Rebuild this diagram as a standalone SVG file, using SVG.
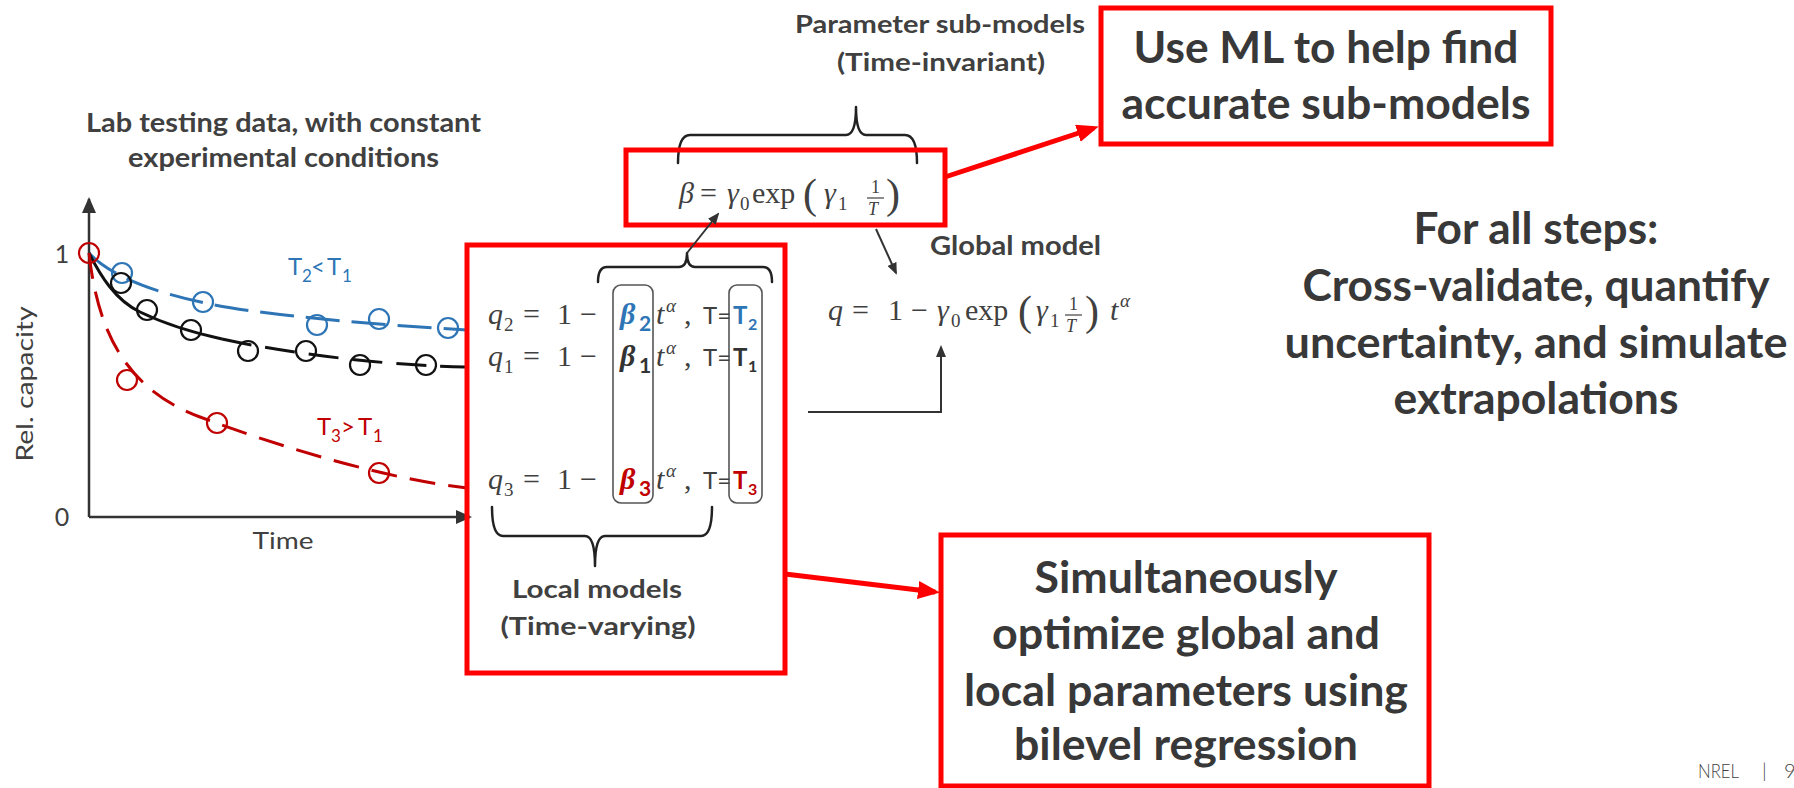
<svg xmlns="http://www.w3.org/2000/svg" width="1794" height="788" viewBox="0 0 1794 788">
<style>
.lbl{font-family:Lato,"Liberation Sans",sans-serif;font-weight:700;fill:#404040}
.big{font-family:Lato,"Liberation Sans",sans-serif;font-weight:700;fill:#383838;font-size:43px;text-anchor:middle}
.reg{font-family:Lato,"Liberation Sans",sans-serif;font-weight:400;fill:#404040}
.m{font-family:"Liberation Serif","DejaVu Serif",serif;font-size:30px;fill:#404040}
.mi{font-style:italic}
.sb{font-size:19px}
.redbox{fill:none;stroke:#FF0000;stroke-width:5}
.brace{fill:none;stroke:#222;stroke-width:2.5;stroke-linecap:round;stroke-linejoin:round}
.col{fill:none;stroke:#555;stroke-width:1.6}
.ax{stroke:#333;stroke-width:2.5;fill:none}
.dot{fill:none;stroke-width:2.2}
.cb{stroke:#2E75B6}
.ck{stroke:#111}
.cr{stroke:#C00000}
.red{stroke:#FF0000;stroke-width:5;fill:none}
.gray{stroke:#333;stroke-width:2;fill:none}
</style>
<defs>
<marker id="ra" markerUnits="userSpaceOnUse" markerWidth="22" markerHeight="18" refX="17" refY="9" orient="auto"><path d="M0,0 L22,9 L0,18 z" fill="#FF0000"/></marker>
<marker id="ga" markerUnits="userSpaceOnUse" markerWidth="12" markerHeight="10" refX="10" refY="5" orient="auto"><path d="M0,0 L12,5 L0,10 z" fill="#333"/></marker>
<marker id="axa" markerUnits="userSpaceOnUse" markerWidth="16" markerHeight="14" refX="14" refY="7" orient="auto"><path d="M0,0 L16,7 L0,14 z" fill="#333"/></marker>
</defs>

<g id="plot">
<text class="lbl" x="283.5" y="132" font-size="26" text-anchor="middle" textLength="395" lengthAdjust="spacingAndGlyphs">Lab testing data, with constant</text>
<text class="lbl" x="283.5" y="167" font-size="26" text-anchor="middle" textLength="311" lengthAdjust="spacingAndGlyphs">experimental conditions</text>
<line class="ax" x1="89" y1="517" x2="89" y2="199" marker-end="url(#axa)"/>
<line class="ax" x1="89" y1="517" x2="470" y2="517" marker-end="url(#axa)"/>
<text class="reg" x="62" y="263" font-size="25" text-anchor="middle">1</text>
<text class="reg" x="62" y="526" font-size="25" text-anchor="middle">0</text>
<text class="reg" x="283" y="549" font-size="24" text-anchor="middle" textLength="61" lengthAdjust="spacingAndGlyphs">Time</text>
<text class="reg" transform="translate(33,384) rotate(-90)" x="0" y="0" font-size="24" text-anchor="middle" textLength="155" lengthAdjust="spacingAndGlyphs">Rel. capacity</text>
<path d="M89,253 C108,274 150,292 210,304 S380,325 467,330" fill="none" stroke="#2E75B6" stroke-width="3" stroke-dasharray="34 12"/>
<path d="M89,253 C100,275 115,300 140,312 C165,324 190,332 222,339" fill="none" stroke="#111" stroke-width="3"/>
<path d="M222,339 C300,356 400,366 465,367" fill="none" stroke="#111" stroke-width="3" stroke-dasharray="30 14"/>
<path d="M89,253 C98,335 128,390 200,417 S380,478 467,488" fill="none" stroke="#C00000" stroke-width="3" stroke-dasharray="26 13"/>
<circle class="dot cb" cx="122" cy="273" r="10"/>
<circle class="dot cb" cx="203" cy="302" r="10"/>
<circle class="dot cb" cx="317" cy="325" r="10"/>
<circle class="dot cb" cx="379" cy="319" r="10"/>
<circle class="dot cb" cx="448" cy="328" r="10"/>
<circle class="dot ck" cx="121" cy="283" r="10"/>
<circle class="dot ck" cx="147" cy="310" r="10"/>
<circle class="dot ck" cx="191" cy="330" r="10"/>
<circle class="dot ck" cx="248" cy="351" r="10"/>
<circle class="dot ck" cx="306" cy="351" r="10"/>
<circle class="dot ck" cx="360" cy="365" r="10"/>
<circle class="dot ck" cx="426" cy="365" r="10"/>
<circle class="dot cr" cx="127" cy="380" r="10"/>
<circle class="dot cr" cx="217" cy="423" r="10"/>
<circle class="dot cr" cx="379" cy="473" r="10"/>
<circle class="dot cr" cx="89" cy="253" r="10"/>
<g font-family="Lato,'Liberation Sans',sans-serif" font-size="24" fill="#2E75B6">
<text x="288" y="275">T</text><text x="302" y="282" font-size="17">2</text><text x="311" y="275">&lt;</text><text x="327" y="275">T</text><text x="342" y="282" font-size="17">1</text>
</g>
<g font-family="Lato,'Liberation Sans',sans-serif" font-size="24" fill="#C00000">
<text x="317" y="435">T</text><text x="331" y="442" font-size="17">3</text><text x="341" y="435">&gt;</text><text x="358" y="435">T</text><text x="373" y="442" font-size="17">1</text>
</g>
</g>

<g id="local-models">
<rect class="redbox" x="467" y="245" width="318" height="428"/>
<rect class="col" x="613" y="285" width="40" height="218" rx="8"/>
<rect class="col" x="729" y="285" width="33" height="218" rx="8"/>
<path class="brace" d="M598,282 Q598,267 607,267 H679 Q687,267 687,253 Q687,267 695,267 H763 Q772,267 772,282"/>
<path class="brace" d="M492,507 Q492,536 503,536 H585 Q595,536 595,566 Q595,536 605,536 H701 Q712,536 712,507"/>
<g class="m">
<text x="488" y="324" class="mi">q</text><text x="504" y="331" class="sb">2</text><text x="523" y="324">=</text><text x="557" y="324">1</text><text x="580" y="324">−</text>
<text x="620" y="324" class="mi" font-weight="700" fill="#2E75B6">β</text><text x="639" y="331" font-family="Lato,sans-serif" font-weight="700" font-size="21" fill="#2E75B6">2</text>
<text x="656" y="324" class="mi">t</text><text x="666" y="312" class="mi sb">α</text><text x="684" y="324">,</text>
<text x="488" y="366" class="mi">q</text><text x="504" y="373" class="sb">1</text><text x="523" y="366">=</text><text x="557" y="366">1</text><text x="580" y="366">−</text>
<text x="620" y="366" class="mi" font-weight="700" fill="#333">β</text><text x="639" y="373" font-family="Lato,sans-serif" font-weight="700" font-size="21" fill="#333">1</text>
<text x="656" y="366" class="mi">t</text><text x="666" y="354" class="mi sb">α</text><text x="684" y="366">,</text>
<text x="488" y="489" class="mi">q</text><text x="504" y="496" class="sb">3</text><text x="523" y="489">=</text><text x="557" y="489">1</text><text x="580" y="489">−</text>
<text x="620" y="489" class="mi" font-weight="700" fill="#C00000">β</text><text x="639" y="496" font-family="Lato,sans-serif" font-weight="700" font-size="21" fill="#C00000">3</text>
<text x="656" y="489" class="mi">t</text><text x="666" y="477" class="mi sb">α</text><text x="684" y="489">,</text>
</g>
<g font-family="Lato,'Liberation Sans',sans-serif" font-size="23" fill="#404040">
<text x="703" y="324" textLength="28" lengthAdjust="spacingAndGlyphs">T=</text><text x="703" y="366" textLength="28" lengthAdjust="spacingAndGlyphs">T=</text><text x="703" y="489" textLength="28" lengthAdjust="spacingAndGlyphs">T=</text>
</g>
<g font-family="Lato,'Liberation Sans',sans-serif" font-weight="700">
<text x="733" y="324" font-size="24" fill="#2E75B6">T</text><text x="748" y="330" font-size="16" fill="#2E75B6">2</text>
<text x="733" y="366" font-size="24" fill="#333">T</text><text x="748" y="372" font-size="16" fill="#333">1</text>
<text x="733" y="489" font-size="24" fill="#C00000">T</text><text x="748" y="495" font-size="16" fill="#C00000">3</text>
</g>
<text class="lbl" x="597" y="598" font-size="25" text-anchor="middle" textLength="170" lengthAdjust="spacingAndGlyphs">Local models</text>
<text class="lbl" x="598" y="635" font-size="25" text-anchor="middle" textLength="195" lengthAdjust="spacingAndGlyphs">(Time-varying)</text>
</g>

<g id="param-submodel">
<text class="lbl" x="940" y="33" font-size="25" text-anchor="middle" textLength="290" lengthAdjust="spacingAndGlyphs">Parameter sub-models</text>
<text class="lbl" x="941" y="71" font-size="25" text-anchor="middle" textLength="208" lengthAdjust="spacingAndGlyphs">(Time-invariant)</text>
<path class="brace" d="M678,163 Q678,135 690,135 H846 Q856,135 856,107 Q856,135 866,135 H905 Q917,135 917,163"/>
<rect class="redbox" x="626" y="150" width="319" height="75"/>
<g class="m">
<text x="679" y="203" class="mi">β</text><text x="700" y="203">=</text>
<text x="727" y="203" class="mi">γ</text><text x="740" y="210" class="sb">0</text>
<text x="752" y="203">exp</text>
<text x="803" y="208" font-size="42">(</text>
<text x="824" y="203" class="mi">γ</text><text x="838" y="210" class="sb">1</text>
<text x="871" y="193" font-size="18">1</text>
<line x1="867" y1="198" x2="884" y2="198" stroke="#404040" stroke-width="1.2"/>
<text x="868" y="215" font-size="18" class="mi">T</text>
<text x="886" y="208" font-size="42">)</text>
</g>
</g>

<g id="global-model">
<text class="lbl" x="930" y="255" font-size="26" textLength="171" lengthAdjust="spacingAndGlyphs">Global model</text>
<g class="m">
<text x="828" y="320" class="mi">q</text><text x="852" y="320">=</text><text x="888" y="320">1</text><text x="911" y="320">−</text>
<text x="937" y="320" class="mi">γ</text><text x="951" y="327" class="sb">0</text>
<text x="965" y="320">exp</text>
<text x="1018" y="325" font-size="42">(</text>
<text x="1036" y="320" class="mi">γ</text><text x="1050" y="327" class="sb">1</text>
<text x="1069" y="310" font-size="18">1</text>
<line x1="1065" y1="315" x2="1082" y2="315" stroke="#404040" stroke-width="1.2"/>
<text x="1066" y="332" font-size="18" class="mi">T</text>
<text x="1085" y="325" font-size="42">)</text>
<text x="1110" y="320" class="mi">t</text><text x="1120" y="307" class="mi sb">α</text>
</g>
</g>

<g id="ml-box">
<rect class="redbox" x="1101" y="8" width="450" height="136"/>
<text class="big" x="1326" y="63" textLength="385" lengthAdjust="spacingAndGlyphs">Use ML to help find</text>
<text class="big" x="1326" y="119" textLength="409" lengthAdjust="spacingAndGlyphs">accurate sub-models</text>
</g>

<g id="all-steps">
<text class="big" x="1536" y="244" textLength="245" lengthAdjust="spacingAndGlyphs">For all steps:</text>
<text class="big" x="1536" y="301" textLength="467" lengthAdjust="spacingAndGlyphs">Cross-validate, quantify</text>
<text class="big" x="1536" y="358" textLength="503" lengthAdjust="spacingAndGlyphs">uncertainty, and simulate</text>
<text class="big" x="1536" y="414" textLength="285" lengthAdjust="spacingAndGlyphs">extrapolations</text>
</g>

<g id="sim-box">
<rect class="redbox" x="941" y="535" width="488" height="251"/>
<text class="big" x="1186" y="593" textLength="303" lengthAdjust="spacingAndGlyphs">Simultaneously</text>
<text class="big" x="1186" y="649" textLength="388" lengthAdjust="spacingAndGlyphs">optimize global and</text>
<text class="big" x="1186" y="706" textLength="444" lengthAdjust="spacingAndGlyphs">local parameters using</text>
<text class="big" x="1186" y="760" textLength="344" lengthAdjust="spacingAndGlyphs">bilevel regression</text>
</g>

<g id="connectors">
<line class="red" x1="945" y1="177" x2="1094" y2="128" marker-end="url(#ra)"/>
<line class="red" x1="785" y1="574" x2="935" y2="592" marker-end="url(#ra)"/>
<line class="gray" x1="687" y1="253" x2="718" y2="214" marker-end="url(#ga)"/>
<line class="gray" x1="876" y1="229" x2="896" y2="273" marker-end="url(#ga)"/>
<polyline class="gray" points="808,412 941,412 941,347" marker-end="url(#ga)"/>
</g>

<g id="footer" font-family="Lato,'Liberation Sans',sans-serif" font-weight="300" font-size="20" fill="#404040">
<text x="1698" y="778" textLength="41" lengthAdjust="spacingAndGlyphs">NREL</text>
<text x="1762" y="778">|</text>
<text x="1784" y="778">9</text>
</g>
</svg>
